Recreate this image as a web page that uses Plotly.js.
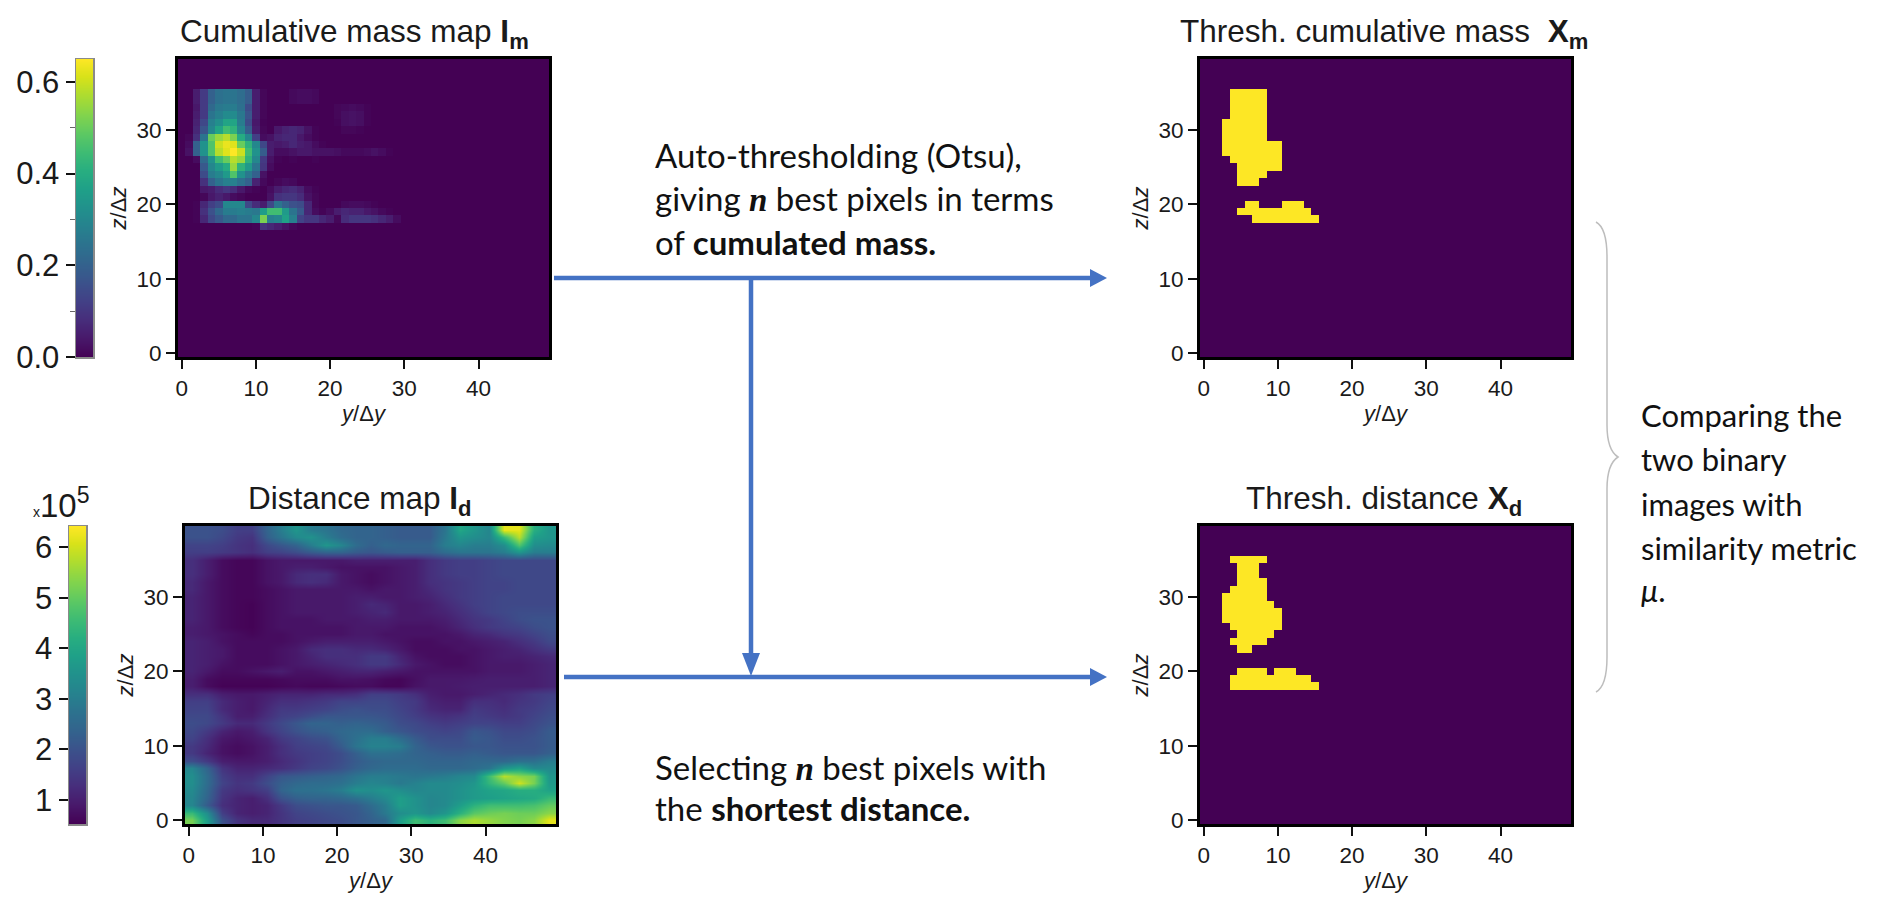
<!DOCTYPE html>
<html><head><meta charset="utf-8">
<script src="https://cdn.plot.ly/plotly-3.0.1.min.js"></script>
<style>html,body{margin:0;padding:0;background:#fff}</style></head>
<body><div id="chart" style="width:1892px;height:912px"></div>
<script>
const xTicks=[0,10,20,30,40];
const yTicks=[0,10,20,30];
const colsAll=[...Array(50).keys()];
const rowsAll=[...Array(40).keys()];

// Cumulative mass map: rows 35 down to 17, columns 0-29 (everything else is 0)
const massRowTop=35;
const massRows=[
[0,0,.05,.11,.2,.24,.25,.25,.23,.19,.05,.01,0,0,0,.015,.02,.02,.015,0,0,0,0,0,0,0,0,0,0,0],
[0,0,.05,.11,.2,.24,.25,.25,.23,.19,.05,.01,0,0,0,.015,.02,.02,.015,0,0,0,0,0,0,0,0,0,0,0],
[0,0,.04,.11,.22,.26,.27,.27,.24,.15,.05,.01,0,0,0,0,0,0,0,0,0,.01,.015,.02,.015,.005,0,0,0,0],
[0,0,.05,.11,.25,.28,.31,.31,.26,.17,.05,.01,0,0,0,0,0,0,0,0,0,.01,.025,.03,.025,.005,0,0,0,0],
[0,0,.06,.14,.28,.32,.38,.38,.27,.15,.04,.005,0,0,0,0,0,0,0,0,0,.005,.025,.03,.025,.005,0,0,0,0],
[0,0,.07,.17,.3,.38,.45,.42,.3,.19,.05,.01,0,.04,.06,.07,.06,.03,.005,0,0,0,.01,.01,.005,0,0,0,0,0],
[0,.01,.09,.25,.5,.55,.58,.52,.4,.3,.12,.02,.03,.06,.07,.07,.04,.02,.005,0,0,0,0,0,0,0,0,0,0,0],
[0,.02,.2,.33,.47,.6,.63,.62,.5,.42,.3,.14,.05,.04,.05,.07,.05,.04,.02,.005,0,0,0,0,0,0,0,0,0,0],
[0,.03,.2,.33,.47,.58,.62,.65,.6,.45,.33,.19,.05,.02,.02,.03,.04,.04,.03,.03,.03,.025,.015,.015,.015,.02,.03,.02,.005,0],
[0,0,.02,.22,.33,.45,.5,.58,.55,.42,.3,.11,.03,.005,0,.005,0,0,.005,0,0,0,0,0,0,0,0,0,0,0],
[0,0,0,.18,.3,.35,.4,.55,.42,.35,.25,.1,.02,0,0,0,0,0,0,0,0,0,0,0,0,0,0,0,0,0],
[0,0,0,.15,.27,.3,.35,.47,.33,.26,.2,.03,0,0,0,0,0,0,0,0,0,0,0,0,0,0,0,0,0,0],
[0,0,0,.09,.2,.25,.28,.28,.24,.2,.06,.015,0,.01,.02,.015,0,0,0,0,0,0,0,0,0,0,0,0,0,0],
[0,0,0,.04,.05,.08,.1,.08,.04,.015,.005,0,.02,.05,.07,.08,.06,.02,.005,0,0,0,0,0,0,0,0,0,0,0],
[0,0,0,.01,.04,.06,.04,.02,.01,0,0,0,.03,.09,.1,.1,.08,.03,.01,0,0,0,0,0,0,0,0,0,0,0],
[0,0,.005,.07,.12,.15,.3,.3,.3,.14,.08,.05,.14,.25,.2,.16,.15,.07,.01,0,0,0,.015,.02,.02,.015,.005,0,0,0],
[0,0,.005,.09,.16,.22,.27,.27,.28,.27,.26,.36,.45,.45,.35,.25,.18,.07,.02,.005,.02,.05,.07,.06,.06,.04,.03,.015,.005,0],
[0,0,.005,.07,.14,.18,.22,.22,.25,.25,.3,.52,.28,.3,.37,.28,.13,.1,.1,.07,.05,.01,.08,.1,.1,.1,.09,.07,.05,.02],
[0,0,0,0,0,0,0,0,0,0,.005,.09,.07,.05,.03,.01,0,0,0,0,0,0,0,0,0,0,0,0,0,0]
];

// Distance map (x10^5), 25 columns two units wide, rows 39 down to 0
const distCols=[.5,2.5,4.5,6.5,8.5,10.5,12.5,14.5,16.5,18.5,20.5,22.5,24.5,26.5,28.5,30.5,32.5,34.5,36.5,38.5,40.5,42.5,44.5,46.5,48.5];
const distRows=[
[2.0,2.0,1.9,1.6,1.6,2.4,3.0,3.6,3.0,2.8,2.5,2.4,2.4,2.3,2.2,2.2,2.2,2.8,4.0,3.6,3.2,6.2,6.2,4.2,3.6],
[2.0,2.0,1.8,1.5,1.4,2.3,2.8,3.3,3.5,3.0,2.6,2.4,2.4,2.3,2.2,2.2,2.2,2.9,3.6,3.4,3.2,4.5,5.8,3.8,3.6],
[1.7,1.7,1.6,1.4,1.3,1.8,2.1,2.4,3.0,3.6,3.2,2.6,2.3,2.5,2.4,2.4,2.4,3.0,3.2,3.0,3.0,3.4,4.8,3.4,3.3],
[1.6,1.6,1.5,1.4,1.3,1.6,1.7,1.9,2.2,2.4,2.4,2.2,2.1,2.2,2.3,2.3,2.3,2.6,2.8,2.8,2.8,3.0,3.6,3.0,3.0],
[1.3,1.0,.7,.6,.6,.8,.9,.9,.9,.9,.9,1.0,1.0,1.0,1.0,1.0,1.3,1.5,1.6,1.6,1.7,1.8,1.8,1.8,1.8],
[1.3,1.0,.7,.6,.6,.8,.9,1.0,1.0,.9,.8,.8,.8,.8,.9,1.0,1.3,1.5,1.6,1.6,1.7,1.8,1.8,1.8,1.8],
[1.3,1.0,.7,.6,.6,.8,.9,1.2,1.3,1.3,.9,.8,.7,.8,.9,1.0,1.3,1.5,1.6,1.6,1.7,1.8,1.8,1.8,1.8],
[1.2,.9,.7,.6,.6,.8,.9,1.2,1.3,1.2,.9,.8,.7,.8,.9,1.0,1.3,1.4,1.5,1.6,1.7,1.7,1.8,1.8,1.8],
[1.2,.9,.7,.6,.6,.7,.8,.9,.9,.9,.9,.9,.8,.9,.9,1.0,1.2,1.4,1.5,1.6,1.7,1.7,1.8,1.8,1.8],
[1.1,.9,.7,.6,.6,.7,.8,.9,.9,.9,.9,1.0,1.0,.9,.9,1.0,1.1,1.3,1.5,1.6,1.7,1.8,1.8,1.8,1.8],
[1.1,.9,.7,.6,.55,.7,.8,.9,.9,.9,.9,1.0,1.2,1.1,.9,.9,1.0,1.2,1.4,1.6,1.7,1.8,1.8,1.8,1.8],
[1.1,.9,.7,.6,.55,.7,.8,.9,.9,.9,.9,1.0,1.1,1.2,.9,.9,1.0,1.1,1.3,1.5,1.7,1.8,1.9,1.9,1.9],
[1.1,.9,.7,.6,.55,.7,.8,.8,.8,.9,.9,.9,1.0,1.0,.9,.9,.9,1.0,1.2,1.4,1.5,1.7,1.9,2.0,2.0],
[1.0,.9,.7,.6,.55,.7,.8,.8,.8,.8,.8,.9,.9,.9,.8,.8,.8,.9,1.1,1.3,1.5,1.6,1.7,1.9,2.0],
[1.0,.9,.8,.7,.6,.7,.7,.8,.8,.8,.8,.9,.9,.8,.8,.8,.8,.8,.9,1.1,1.2,1.4,1.5,1.7,1.9],
[1.1,1.0,.8,.7,.7,.7,.7,.8,.9,1.0,1.0,1.0,1.0,.9,.8,.7,.7,.8,.8,.9,1.0,1.1,1.3,1.5,1.8],
[1.1,1.0,.9,.7,.7,.7,.8,.9,1.2,1.3,1.3,1.2,1.2,1.1,.9,.7,.7,.7,.8,.8,.9,1.0,1.1,1.3,1.5],
[1.1,1.0,.9,.7,.7,.7,.8,.9,1.1,1.3,1.3,1.3,1.5,1.5,1.1,.8,.7,.7,.7,.8,.9,1.0,1.0,1.1,1.2],
[1.1,1.0,.8,.7,.7,.7,.8,.9,1.0,1.1,1.2,1.3,1.5,1.5,1.2,.9,.8,.7,.7,.8,.9,.9,.9,1.0,1.1],
[1.1,.9,.7,.7,.8,.9,1.0,.8,.8,.9,1.0,1.1,1.1,1.0,.9,.8,.8,.8,.8,.8,.9,.9,.9,1.0,1.1],
[1.0,.7,.6,.6,.6,.6,.65,.7,.7,.7,.8,.8,.75,.65,.6,.75,.9,.9,.9,.95,1.0,1.0,1.0,1.0,1.1],
[1.0,.7,.55,.55,.55,.55,.6,.65,.6,.6,.65,.7,.7,.6,.6,.8,.9,.9,.95,1.0,1.0,1.0,1.0,1.0,1.1],
[1.3,1.3,1.0,.9,.9,1.0,1.1,1.1,1.1,1.2,1.2,1.3,1.6,1.6,1.5,1.3,1.0,.9,.9,1.0,1.1,1.2,1.3,1.5,1.6],
[1.6,1.6,1.2,1.0,.9,1.1,1.3,1.3,1.4,1.5,1.7,1.7,1.8,1.8,1.6,1.5,1.1,1.0,1.0,1.3,1.3,1.2,1.4,1.5,1.7],
[1.7,1.7,1.2,1.0,.9,1.2,1.5,1.5,1.6,1.7,1.9,2.0,1.9,1.9,1.7,1.5,1.2,1.1,1.1,1.5,1.4,1.3,1.5,1.6,1.8],
[1.8,1.8,1.4,1.0,1.0,1.3,1.6,1.7,1.9,2.1,2.1,2.1,2.1,2.0,1.8,1.6,1.4,1.3,1.4,1.6,1.5,1.4,1.5,1.7,1.9],
[1.9,1.8,1.5,1.2,1.2,1.5,1.8,2.1,2.4,2.4,2.3,2.4,2.3,2.2,1.9,1.8,1.6,1.5,1.6,1.7,1.7,1.6,1.6,1.8,2.0],
[1.8,1.5,1.1,.9,1.0,1.4,1.7,2.0,2.2,2.3,2.5,2.6,2.6,2.3,2.1,1.9,1.8,1.7,1.8,2.1,2.0,1.8,1.8,1.9,2.2],
[1.7,1.3,.9,.8,.9,1.1,1.5,1.7,1.9,2.0,2.4,2.7,3.0,3.0,2.6,2.2,1.9,1.9,1.9,2.2,2.1,1.9,1.9,2.0,2.2],
[1.5,1.2,.8,.7,.8,1.0,1.3,1.6,1.7,1.8,2.2,2.8,3.1,3.1,3.0,2.4,2.1,2.0,2.0,2.1,2.1,2.0,2.0,2.0,2.2],
[1.5,1.1,.8,.7,.8,1.0,1.3,1.5,1.6,1.7,1.9,2.3,2.7,2.7,2.6,2.4,2.3,2.2,2.2,2.3,2.2,2.1,2.1,2.1,2.3],
[1.9,1.5,1.0,.9,.9,1.0,1.2,1.4,1.6,1.7,1.9,2.2,2.4,2.5,2.5,2.5,2.4,2.4,2.4,2.5,2.5,2.5,2.7,2.7,3.0],
[3.2,2.4,1.4,1.1,1.1,1.2,1.3,1.5,1.7,1.8,2.0,2.3,2.5,2.6,2.6,2.6,2.5,2.5,2.5,2.6,2.8,3.6,3.9,3.3,3.3],
[3.4,2.6,1.6,1.3,1.3,1.7,2.1,2.2,2.3,2.4,2.5,2.8,3.0,3.0,2.9,2.8,2.9,3.0,3.2,3.3,4.6,5.8,5.4,5.2,3.6],
[3.4,2.6,1.7,1.4,1.5,1.9,2.3,2.5,2.6,2.6,2.7,3.0,3.2,3.1,2.9,3.1,3.3,3.3,3.4,3.6,4.4,5.0,6.0,5.2,3.7],
[3.3,2.5,1.5,1.3,1.4,1.6,2.4,2.7,2.7,2.8,3.0,3.5,3.4,3.6,3.4,3.2,3.3,3.3,3.5,3.7,3.9,4.0,4.2,4.2,3.9],
[3.2,2.4,1.4,1.1,1.0,1.3,2.0,2.3,2.4,2.4,2.5,2.7,3.0,3.3,3.8,3.5,3.2,3.3,3.5,3.7,3.8,3.9,4.0,4.1,4.5],
[3.2,2.2,1.3,1.1,1.0,1.1,1.5,1.9,2.0,2.1,2.1,2.2,2.6,3.0,3.8,3.5,3.2,3.3,3.8,4.3,4.6,4.6,4.6,4.7,5.0],
[4.5,3.4,1.6,1.1,1.0,1.1,1.4,1.7,1.8,1.9,2.0,2.1,2.4,2.9,3.4,3.6,3.3,3.6,4.3,4.9,5.1,5.2,5.1,5.1,5.4],
[5.2,3.8,2.0,1.4,1.2,1.2,1.4,1.6,1.7,1.8,1.9,2.1,2.3,2.5,3.8,4.6,4.3,4.6,5.4,5.7,5.5,5.3,5.2,5.4,6.2]
];
const distRowLabels=[39,38,37,36,35,34,33,32,31,30,29,28,27,26,25,24,23,22,21,20,19,18,17,16,15,14,13,12,11,10,9,8,7,6,5,4,3,2,1,0];

// Binary maps as runs: [row, first column, last column]
const threshMassRuns=[[35,4,8],[34,4,8],[33,4,8],[32,4,8],[31,3,8],[30,3,8],[29,3,8],[28,3,10],[27,3,10],[26,4,10],[25,5,10],[24,5,8],[23,5,7],[20,6,7],[20,11,13],[19,5,14],[18,7,15]];
const threshDistRuns=[[35,4,8],[34,5,7],[33,5,7],[32,5,8],[31,4,8],[30,3,8],[29,3,9],[28,3,10],[27,3,10],[26,4,10],[25,5,9],[24,4,8],[23,5,6],[20,5,8],[20,10,12],[19,4,14],[18,4,15]];

// Colour bar ramps
const massLevels=[0,.025,.05,.075,.1,.125,.15,.175,.2,.225,.25,.275,.3,.325,.35,.375,.4,.425,.45,.475,.5,.525,.55,.575,.6,.625,.65];
const massBarTicks=[0,.2,.4,.6];
const massBarLabels=['0.0','0.2','0.4','0.6'];
const distLevels=[.52,.75,1,1.25,1.5,1.75,2,2.25,2.5,2.75,3,3.25,3.5,3.75,4,4.25,4.5,4.75,5,5.25,5.5,5.75,6,6.25,6.42];
const distBarTicks=[1,2,3,4,5,6];

// Titles and notes
const panelTitles=['Cumulative mass map <b>I<sub>m</sub></b>','Distance map <b>I<sub>d</sub></b>','Thresh. cumulative mass  <b>X<sub>m</sub></b>','Thresh. distance <b>X<sub>d</sub></b>'];
const nMath='<span style="font-family:\'Liberation Serif\'"><b><i>n</i></b></span>';
const topNote=['Auto-thresholding (Otsu),','giving '+nMath+' best pixels in terms','of <b>cumulated mass.</b>'];
const bottomNote=['Selecting '+nMath+' best pixels with','the <b>shortest distance.</b>'];
const sideNote=['Comparing the','two binary','images with','similarity metric','<i>μ</i>.'];

const W=1892,H=912;
const fx=p=>p/W, fy=p=>1-p/H;
const ink='#1a1a1a', arrowBlue='#4472C4';

function runsToZ(runs){
  const z=rowsAll.map(()=>colsAll.map(()=>0));
  runs.forEach(([r,a,b])=>{for(let c=a;c<=b;c++)z[r][c]=1;});
  return z;
}
function massToZ(){
  return rowsAll.map(r=>{
    const i=massRowTop-r;
    const src=massRows[i]||[];
    return colsAll.map(c=>src[c]||0);
  });
}

const panels=[
 {l:178,t:59,trace:{x:colsAll,y:rowsAll,z:massToZ(),zmin:0,zmax:.65},titleX:354,titleY:34},
 {l:185,t:526,trace:{x:distCols,y:distRowLabels,z:distRows,zmin:.52,zmax:6.42,zsmooth:'best'},titleX:360,titleY:500},
 {l:1200,t:59,trace:{x:colsAll,y:rowsAll,z:runsToZ(threshMassRuns),zmin:0,zmax:1},titleX:1384,titleY:34},
 {l:1200,t:526,trace:{x:colsAll,y:rowsAll,z:runsToZ(threshDistRuns),zmin:0,zmax:1},titleX:1384,titleY:500}
];
const panelW=371,panelH=298;

const data=[],layout={
  width:W,height:H,margin:{l:0,r:0,t:0,b:0},paper_bgcolor:'#fff',plot_bgcolor:'#fff',
  font:{family:'"Liberation Sans",Arial,sans-serif',color:ink},showlegend:false,
  annotations:[],shapes:[]
};
panels.forEach((p,i)=>{
  const n=i+1, s=n===1?'':String(n);
  data.push(Object.assign({type:'heatmap',colorscale:'Viridis',showscale:false,xaxis:'x'+s,yaxis:'y'+s,hoverinfo:'skip'},p.trace));
  const common={ticks:'outside',ticklen:9,tickwidth:2,tickcolor:'#111',showline:true,linecolor:'#000',linewidth:3,mirror:true,showgrid:false,zeroline:false,tickfont:{size:22.5,color:ink}};
  layout['xaxis'+s]=Object.assign({},common,{domain:[fx(p.l),fx(p.l+panelW)],range:[-.5,49.5],tickvals:xTicks,anchor:'y'+s,
    title:{text:'<i>y</i>/Δ<i>y</i>',font:{size:22,color:ink},standoff:6}});
  layout['yaxis'+s]=Object.assign({},common,{domain:[fy(p.t+panelH),fy(p.t)],range:[-.5,39.5],tickvals:yTicks,anchor:'x'+s,
    title:{text:'<i>z</i>/Δ<i>z</i>',font:{size:22,color:ink},standoff:4}});
  layout.annotations.push({xref:'paper',yref:'paper',x:fx(p.titleX),y:fy(p.titleY),xanchor:'center',yanchor:'middle',showarrow:false,text:panelTitles[i],font:{size:31.5,color:ink}});
});

// Colour bars as narrow axes so their ticks sit on the left
function addBar(n,l,t,levels,ticks,labels,minorStep,rng){
  const s=String(n);
  data.push({type:'heatmap',colorscale:'Viridis',showscale:false,zsmooth:'best',hoverinfo:'skip',xaxis:'x'+s,yaxis:'y'+s,
    x:[0,1],y:levels,z:levels.map(v=>[v,v]),zmin:rng[0],zmax:rng[1]});
  layout['xaxis'+s]={domain:[fx(l),fx(l+17)],range:[0,1],showticklabels:false,tickvals:[],ticks:'',showgrid:false,zeroline:false,showline:true,linecolor:'#8a8a8a',linewidth:1.5,mirror:true,anchor:'y'+s};
  const ya={domain:[fy(t+panelH),fy(t)],range:rng,tickvals:ticks,ticks:'outside',ticklen:9,tickwidth:2,tickcolor:'#111',showgrid:false,zeroline:false,showline:true,linecolor:'#8a8a8a',linewidth:1.5,mirror:true,anchor:'x'+s,tickfont:{size:31,color:ink}};
  if(labels)ya.ticktext=labels;
  if(minorStep)ya.minor={dtick:minorStep,ticks:'outside',ticklen:5,tickwidth:1,tickcolor:'#666',showgrid:false};
  layout['yaxis'+s]=ya;
}
addBar(5,76,59,massLevels,massBarTicks,massBarLabels,.1,[0,.65]);
addBar(6,69,526,distLevels,distBarTicks,null,null,[.52,6.42]);
layout.annotations.push({xref:'paper',yref:'paper',x:fx(31),y:fy(503),xanchor:'left',yanchor:'middle',showarrow:false,text:'<span style="font-size:14px">x</span>10<sup>5</sup>',font:{size:33,color:ink}});

// Notes
const noteFont={family:'Lato,"Open Sans",sans-serif',size:33,color:'#111'};
const sideFont={family:'Lato,"Open Sans",sans-serif',size:31,color:'#111'};
function addLines(lines,x,ys,font){lines.forEach((t,i)=>layout.annotations.push({xref:'paper',yref:'paper',x:fx(x),y:fy(ys[i]),xanchor:'left',yanchor:'middle',showarrow:false,align:'left',text:t,font:font}));}
addLines(topNote,653,[155,198,242],noteFont);
addLines(bottomNote,653,[767,808],noteFont);
addLines(sideNote,1639,[415,459,504,548,590],sideFont);

// Flow arrows and brace
const seg=(x0,y0,x1,y1)=>({type:'line',xref:'paper',yref:'paper',x0:fx(x0),y0:fy(y0),x1:fx(x1),y1:fy(y1),line:{color:arrowBlue,width:4.5}});
const tri=(a,b,c)=>({type:'path',xref:'paper',yref:'paper',fillcolor:arrowBlue,line:{width:0},path:`M${fx(a[0])},${fy(a[1])}L${fx(b[0])},${fy(b[1])}L${fx(c[0])},${fy(c[1])}Z`});
layout.shapes.push(seg(554,278,1092,278),tri([1090,269],[1107,278],[1090,287]));
layout.shapes.push(seg(564,677,1092,677),tri([1090,668],[1107,677],[1090,686]));
layout.shapes.push(seg(751,278,751,655),tri([742,653],[760,653],[751,676]));
const b=(x,y)=>`${fx(x)},${fy(y)}`;
layout.shapes.push({type:'path',xref:'paper',yref:'paper',line:{color:'#bdbdbd',width:1.5},
  path:`M${b(1596,222)}Q${b(1607,228)} ${b(1607,257)}L${b(1607,425)}Q${b(1607,450)} ${b(1618,457)}Q${b(1607,464)} ${b(1607,489)}L${b(1607,657)}Q${b(1607,686)} ${b(1596,692)}`});

Plotly.newPlot('chart',data,layout,{displayModeBar:false,staticPlot:true});
</script></body></html>
